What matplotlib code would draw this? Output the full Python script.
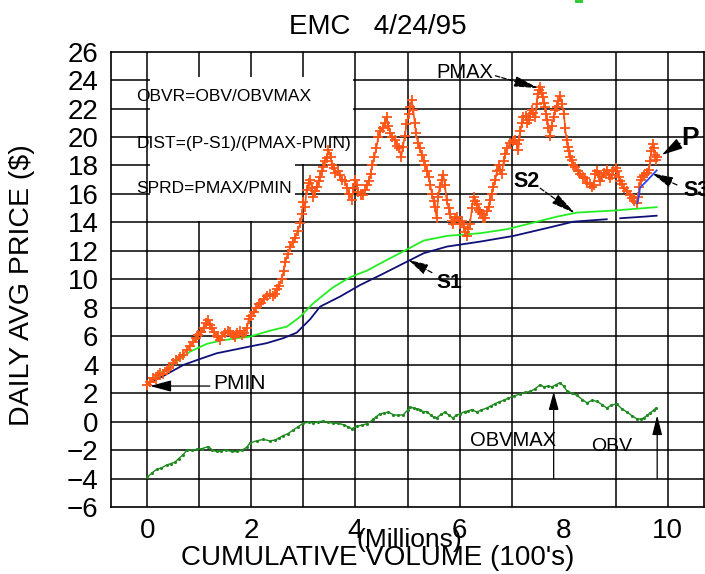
import numpy as np
import matplotlib
matplotlib.use("Agg")
import matplotlib.pyplot as plt
from matplotlib.patches import Polygon, Rectangle

plt.rcParams['font.family'] = ['Liberation Sans', 'DejaVu Sans']

# ---------------- data ----------------
title = "EMC   4/24/95"
x_ticks = [0, 2, 4, 6, 8, 10]
y_ticks = list(range(-6, 27, 2))
grid_x = [0, 1, 2, 3, 4, 5, 6, 7, 9, 10]
grid_y = list(range(-4, 26, 2))

price_x = [0.00, 0.05, 0.11, 0.16, 0.20, 0.24, 0.30, 0.37, 0.42, 0.50, 0.55, 0.63, 0.68, 0.76, 0.82, 0.88,
           0.93, 0.98, 1.03, 1.08, 1.12, 1.16, 1.20, 1.24, 1.28, 1.33, 1.36, 1.40, 1.44, 1.49, 1.54, 1.59,
           1.64, 1.68, 1.73, 1.78, 1.82, 1.86, 1.91, 1.95, 1.99, 2.04, 2.09, 2.14, 2.19, 2.24, 2.30, 2.36,
           2.41, 2.45, 2.49, 2.53, 2.58, 2.62, 2.65, 2.70, 2.75, 2.79, 2.84, 2.89, 2.94, 2.97, 3.00, 3.03,
           3.06, 3.10, 3.13, 3.16, 3.19, 3.23, 3.26, 3.29, 3.32, 3.35, 3.38, 3.42, 3.45, 3.48, 3.52, 3.55,
           3.58, 3.61, 3.66, 3.70, 3.75, 3.80, 3.84, 3.88, 3.93, 3.96, 3.99, 4.02, 4.05, 4.10, 4.15, 4.19,
           4.22, 4.26, 4.29, 4.32, 4.36, 4.40, 4.44, 4.48, 4.52, 4.56, 4.60, 4.63, 4.67, 4.71, 4.76, 4.80,
           4.84, 4.88, 4.91, 4.95, 4.98, 5.02, 5.05, 5.08, 5.11, 5.14, 5.16, 5.20, 5.24, 5.28, 5.31, 5.34,
           5.38, 5.41, 5.44, 5.47, 5.50, 5.53, 5.56, 5.59, 5.62, 5.66, 5.69, 5.72, 5.75, 5.79, 5.82, 5.85,
           5.88, 5.92, 5.96, 6.00, 6.04, 6.08, 6.11, 6.14, 6.17, 6.20, 6.24, 6.27, 6.30, 6.33, 6.37, 6.40,
           6.43, 6.46, 6.49, 6.53, 6.56, 6.59, 6.62, 6.65, 6.69, 6.72, 6.75, 6.78, 6.81, 6.85, 6.88, 6.92,
           6.97, 7.02, 7.07, 7.10, 7.13, 7.15, 7.17, 7.20, 7.23, 7.27, 7.30, 7.33, 7.36, 7.39, 7.42, 7.46,
           7.48, 7.50, 7.53, 7.55, 7.58, 7.60, 7.63, 7.65, 7.67, 7.69, 7.71, 7.74, 7.77, 7.81, 7.84, 7.87,
           7.90, 7.94, 7.97, 8.01, 8.03, 8.06, 8.08, 8.10, 8.13, 8.16, 8.19, 8.22, 8.27, 8.32, 8.37, 8.42,
           8.46, 8.51, 8.55, 8.58, 8.61, 8.64, 8.68, 8.71, 8.74, 8.78, 8.83, 8.87, 8.90, 8.93, 8.96, 9.00,
           9.03, 9.06, 9.09, 9.12, 9.17, 9.22, 9.27, 9.31, 9.36, 9.41, 9.44, 9.46, 9.48, 9.51, 9.55, 9.60,
           9.64, 9.67, 9.69, 9.71, 9.73, 9.75, 9.77, 9.79]
price_y = [2.60, 2.75, 3.05, 3.00, 3.30, 3.40, 3.35, 3.63, 3.75, 4.10, 4.30, 4.57, 4.70, 5.04, 5.30, 5.60,
           5.85, 6.10, 6.30, 6.56, 6.90, 7.15, 6.80, 6.55, 6.30, 6.05, 5.95, 5.75, 6.00, 6.25, 6.40, 6.30,
           6.10, 5.95, 6.20, 6.35, 6.10, 6.20, 6.60, 7.20, 7.45, 7.70, 7.95, 8.25, 8.35, 8.65, 8.80, 9.00,
           8.85, 8.95, 9.30, 9.50, 10.0, 10.6, 11.2, 11.8, 12.3, 12.6, 12.9, 13.4, 13.95, 14.6, 15.4, 15.1,
           16.3, 16.8, 17.0, 16.4, 15.8, 16.2, 16.5, 16.9, 17.2, 17.6, 17.9, 18.3, 18.5, 19.1, 18.6, 18.0,
           17.8, 17.5, 17.6, 17.3, 17.0, 16.9, 16.4, 16.0, 15.6, 16.4, 17.0, 16.6, 16.1, 15.9, 15.9, 16.3,
           16.6, 16.9, 17.4, 18.0, 18.6, 19.2, 20.0, 20.4, 20.6, 21.0, 21.4, 20.8, 20.3, 20.0, 19.8, 19.4,
           19.2, 18.6, 19.3, 20.1, 20.9, 21.6, 22.1, 22.6, 21.9, 21.0, 20.3, 19.6, 19.2, 18.7, 18.3, 18.0,
           17.6, 17.2, 16.6, 16.0, 15.5, 15.1, 14.3, 15.8, 16.5, 17.0, 17.3, 16.6, 15.6, 15.0, 14.6, 14.1,
           13.9, 14.3, 14.4, 13.9, 14.1, 13.7, 13.3, 13.05, 13.5, 13.9, 15.0, 15.8, 15.5, 15.3, 14.9, 14.7,
           14.6, 14.3, 14.3, 14.8, 15.1, 15.6, 16.0, 16.5, 17.0, 17.6, 18.0, 17.7, 17.4, 18.3, 18.8, 19.2,
           19.55, 19.7, 19.8, 19.5, 19.1, 19.8, 20.4, 21.0, 21.4, 21.5, 21.0, 21.2, 21.6, 21.9, 21.7, 21.4,
           22.3, 23.0, 23.3, 23.5, 23.1, 22.8, 22.4, 22.1, 21.6, 21.2, 20.6, 20.1, 20.8, 21.4, 21.9, 22.1,
           22.5, 22.9, 22.3, 21.6, 20.6, 19.8, 19.3, 19.0, 18.6, 18.4, 18.0, 17.9, 17.6, 17.4, 17.2, 17.1,
           16.8, 16.7, 16.5, 16.6, 17.4, 17.6, 17.3, 16.9, 17.2, 17.5, 17.7, 17.3, 17.1, 17.3, 17.6, 17.8,
           17.6, 17.2, 16.9, 16.7, 16.4, 16.2, 15.9, 15.7, 15.5, 15.35, 15.8, 16.5, 17.0, 17.2, 17.3, 17.5,
           17.7, 18.3, 19.0, 19.5, 19.2, 18.7, 18.4, 18.6]

s1_x = [0.00, 0.31, 0.69, 1.01, 1.33, 1.65, 1.97, 2.29, 2.61, 2.87, 3.13, 3.32, 3.70, 4.09, 4.47,
        4.99, 5.31, 5.76, 6.40, 7.04, 7.68, 8.19, 8.83, np.nan, 9.09, 9.54, 9.79]
s1_y = [2.70, 3.21, 3.98, 4.40, 4.80, 5.04, 5.28, 5.51, 5.86, 6.25, 7.20, 8.08, 8.78, 9.60, 10.28,
        11.24, 11.83, 12.30, 12.65, 13.05, 13.60, 14.05, 14.22, np.nan, 14.29, 14.40, 14.47]

s2_x = [0.05, 0.47, 0.82, 1.14, 1.40, 1.72, 1.97, 2.29, 2.49, 2.68, 2.93, 3.19, 3.57, 3.90, 4.22,
        4.54, 4.95, 5.31, 5.76, 6.40, 6.91, 7.42, 7.87, 8.26, 8.96, 9.79]
s2_y = [2.90, 3.98, 4.92, 5.46, 5.69, 5.86, 5.97, 6.32, 6.51, 6.67, 7.35, 8.32, 9.44, 10.15, 10.61,
        11.24, 12.02, 12.72, 13.05, 13.24, 13.52, 13.98, 14.40, 14.69, 14.83, 15.07]

s3_x = [9.42, 9.45, 9.47, 9.57, 9.70, 9.79]
s3_y = [15.35, 15.90, 16.45, 16.80, 17.30, 17.65]

obv_x = [0.00, 0.09, 0.18, 0.27, 0.37, 0.45, 0.53, 0.60, 0.68, 0.76, 0.85, 0.95, 1.05, 1.17, 1.25, 1.33,
         1.42, 1.52, 1.62, 1.72, 1.82, 1.91, 1.97, 2.10, 2.23, 2.35, 2.45, 2.53, 2.61, 2.70, 2.80, 2.90,
         3.00, 3.10, 3.19, 3.28, 3.38, 3.48, 3.57, 3.67, 3.77, 3.85, 3.93, 4.02, 4.12, 4.22, 4.34, 4.40,
         4.47, 4.55, 4.63, 4.73, 4.82, 4.92, 5.00, 5.05, 5.12, 5.18, 5.24, 5.30, 5.37, 5.45, 5.50, 5.56,
         5.64, 5.72, 5.80, 5.87, 5.94, 6.01, 6.10, 6.17, 6.24, 6.33, 6.42, 6.52, 6.60, 6.68, 6.75, 6.85,
         6.94, 7.05, 7.17, 7.26, 7.36, 7.45, 7.55, 7.62, 7.70, 7.78, 7.86, 7.93, 8.00, 8.06, 8.16, 8.26,
         8.36, 8.45, 8.55, 8.64, 8.74, 8.83, 8.92, 9.02, 9.12, 9.22, 9.32, 9.41, 9.48, 9.54, 9.61, 9.67,
         9.73, 9.78]
obv_y = [-3.90, -3.60, -3.35, -3.25, -3.05, -2.95, -2.85, -2.60, -2.35, -2.00, -2.00, -1.95, -1.90, -1.75,
         -2.00, -2.10, -2.05, -2.00, -2.10, -2.10, -2.00, -1.80, -1.50, -1.35, -1.25, -1.35, -1.30, -1.15,
         -0.98, -0.85, -0.60, -0.35, -0.10, -0.05, -0.08, 0.00, 0.03, -0.05, -0.10, -0.12, -0.22, -0.35,
         -0.50, -0.32, -0.25, -0.15, 0.15, 0.35, 0.55, 0.60, 0.67, 0.48, 0.45, 0.48, 0.80, 1.02, 0.95,
         0.90, 0.85, 0.70, 0.71, 0.45, 0.30, 0.25, 0.50, 0.67, 0.45, 0.25, 0.45, 0.55, 0.70, 0.75, 0.85,
         0.67, 0.82, 0.95, 1.10, 1.25, 1.37, 1.50, 1.65, 1.80, 1.95, 2.05, 2.12, 2.30, 2.59, 2.45, 2.50,
         2.45, 2.60, 2.73, 2.50, 2.18, 2.00, 1.84, 1.55, 1.32, 1.50, 1.42, 1.20, 0.95, 1.15, 1.25, 0.90,
         0.67, 0.40, 0.20, 0.18, 0.25, 0.45, 0.62, 0.80, 0.95]

formulas = ["OBVR=OBV/OBVMAX", "DIST=(P-S1)/(PMAX-PMIN)", "SPRD=PMAX/PMIN"]
formula_y = [22.84, 19.56, 16.35]

# ---------------- figure ----------------
fig = plt.figure(figsize=(7.05, 5.74), dpi=100)
ax = fig.add_axes([111 / 705, 67 / 574, 593 / 705, 455.4 / 574])
ax.set_xlim(-0.7, 10.7)
ax.set_ylim(-6, 26)

for gx in grid_x:
    ax.axvline(gx, color='black', lw=1.1, zorder=1)
for gy in grid_y:
    ax.axhline(gy, color='black', lw=1.1, zorder=1)
for s in ax.spines.values():
    s.set_linewidth(1.2)
    s.set_zorder(5)

# white area behind formula text
box = Polygon([(0.05, 14.08), (2.84, 14.08), (2.84, 18.1), (3.52, 18.1), (3.52, 21.0),
               (3.95, 21.0), (3.95, 24.2), (0.05, 24.2)], closed=True,
              facecolor='white', edgecolor='none', zorder=1.5)
ax.add_patch(box)

ax.plot(obv_x, obv_y, color='#1f8a1f', lw=1.0, marker='.', markersize=2.5, zorder=3)
ax.plot(s2_x, s2_y, color='#22ee22', lw=1.3, zorder=3)
ax.plot(s1_x, s1_y, color='#10107a', lw=1.3, zorder=3)
ax.plot(price_x, price_y, color='#ff5516', lw=1.2, marker='+', markersize=7,
        markeredgewidth=1.3, zorder=4)
ax.plot(s3_x, s3_y, color='#2846ff', lw=1.3, zorder=4.5)

ax.set_xticks(x_ticks)
ax.set_yticks(y_ticks)
ax.tick_params(length=0, labelsize=20)
ax.tick_params(axis='x', pad=8)
ax.tick_params(axis='y', pad=9)

for t, yy in zip(formulas, formula_y):
    ax.text(-0.21, yy, t, fontsize=12.5, va='center', ha='left', zorder=6)

def arrow(tail, tip, dashed=False, hl=1.5, hw=0.32, lw=0.9):
    ax.annotate('', xy=tip, xytext=tail, zorder=6,
                arrowprops=dict(arrowstyle=f'-|>,head_length={hl},head_width={hw}',
                                linestyle='--' if dashed else '-', lw=lw, color='black',
                                shrinkA=0, shrinkB=0, mutation_scale=10))

# annotations
ax.text(5.55, 24.5, "PMAX", fontsize=14.5, va='center', ha='left', zorder=6)
arrow((6.69, 24.3), (7.52, 23.43), dashed=True)
ax.text(1.27, 2.65, "PMIN", fontsize=15, va='center', ha='left', zorder=6)
arrow((1.20, 2.5), (0.05, 2.5), dashed=False, hl=1.3, hw=0.35)
ax.text(7.28, 16.9, "S2", fontsize=15.5, fontweight='bold', va='center', ha='center', zorder=6)
arrow((7.55, 16.4), (8.22, 14.64), dashed=True)
ax.text(5.80, 9.75, "S1", fontsize=15, fontweight='bold', va='center', ha='center', zorder=6)
arrow((5.47, 10.47), (5.02, 11.36), dashed=True, hl=1.2)
ax.text(10.43, 19.9, "P", fontsize=19, fontweight='bold', va='center', ha='center', zorder=6)
arrow((10.24, 19.56), (9.89, 18.74), dashed=False, hl=1.3, hw=0.35)
ax.text(10.31, 16.23, "S3", fontsize=15.5, fontweight='bold', va='center', ha='left', zorder=6,
        clip_on=False)
arrow((10.18, 16.63), (9.70, 17.45), dashed=True, hl=1.3)
ax.text(7.02, -1.3, "OBVMAX", fontsize=14.5, va='center', ha='center', zorder=6)
arrow((7.81, -4.0), (7.81, 2.1), dashed=False, hl=1.1, hw=0.3)
ax.text(8.93, -1.75, "OBV", fontsize=14, va='center', ha='center', zorder=6)
arrow((9.80, -4.0), (9.80, 0.45), dashed=False, hl=1.2, hw=0.3)

# titles / axis labels
fig.text(378 / 705, 1 - 27 / 574, title, fontsize=20, ha='center', va='center')
fig.text(22 / 705, 1 - 285 / 574, "DAILY AVG PRICE ($)", fontsize=20.5, rotation=90,
         ha='center', va='center')
fig.text(378 / 705, 1 - 558 / 574, "CUMULATIVE VOLUME (100's)", fontsize=20,
         ha='center', va='center')
fig.text(409 / 705, 1 - 540 / 574, "(Millions)", fontsize=19, ha='center', va='center')

# small green mark at the top edge
fig.patches.append(Rectangle((575 / 705, 1 - 3 / 574), 8 / 705, 3 / 574,
                             transform=fig.transFigure, facecolor='#33cc33',
                             edgecolor='none'))

fig.savefig("out.png", dpi=100)
